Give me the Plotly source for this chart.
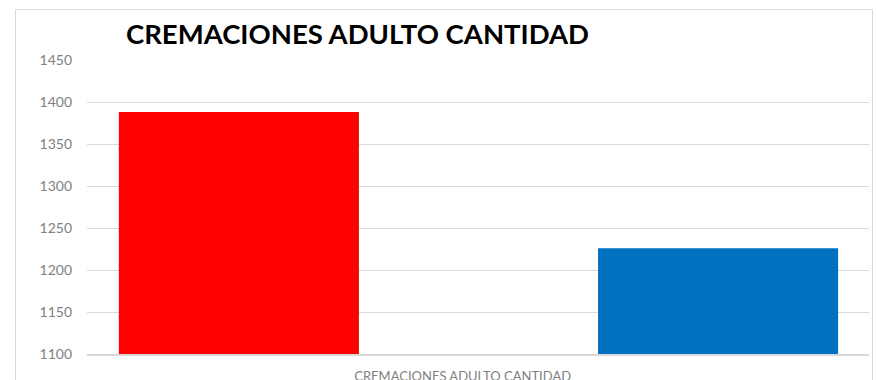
import plotly.graph_objects as go

title_text = "CREMACIONES ADULTO CANTIDAD"
category = "CREMACIONES ADULTO CANTIDAD"
series_names = ["Serie 1", "Serie 2"]
series_values = [1388, 1226]
series_colors = ["#FF0000", "#0070C0"]
y_ticks = [1100, 1150, 1200, 1250, 1300, 1350, 1400, 1450]

fig = go.Figure()
for i, (name, val, col) in enumerate(zip(series_names, series_values, series_colors)):
    fig.add_trace(go.Bar(
        x=[i], y=[val], name=name, marker=dict(color=col, line=dict(width=0)),
        width=0.501, showlegend=False, hoverinfo="y",
    ))

n = len(series_values)
fig.update_layout(
    width=876, height=380,
    margin=dict(l=87, r=7, t=60, b=26, autoexpand=False),
    paper_bgcolor="white", plot_bgcolor="white",
    font=dict(family="Lato", color="#7F7F7F"),
    barmode="overlay",
    xaxis=dict(
        range=[-0.317, 1.315], tickmode="array", tickvals=[(n - 1) / 2 - 0.033],
        ticktext=[category], showgrid=False, zeroline=False, automargin=False,
        showline=True, linecolor="#D9D9D9", linewidth=2, ticks="",
        ticklabelstandoff=9,
        tickfont=dict(size=13, color="#7F7F7F"), fixedrange=True,
    ),
    yaxis=dict(
        range=[1100, 1450], tickmode="array", tickvals=y_ticks, automargin=False,
        showgrid=True, gridcolor="#D9D9D9", gridwidth=1.3, zeroline=False,
        showline=False, ticks="", ticklabelstandoff=14,
        tickfont=dict(size=14, color="#7F7F7F"),
    ),
    annotations=[dict(
        text="<b>" + title_text + "</b>", xref="paper", yref="paper",
        x=(124 - 87) / 782, y=(354 - 33) / 294, xanchor="left", yanchor="middle",
        showarrow=False, font=dict(family="Lato", size=27.5, color="#000000"),
    )],
    shapes=[dict(
        type="rect", xref="paper", yref="paper",
        x0=(15.5 - 87) / 782, x1=(872.5 - 87) / 782,
        y0=-0.3, y1=(354 - 9.5) / 294,
        line=dict(color="#D9D9D9", width=1), fillcolor="rgba(0,0,0,0)", layer="below",
    )],
)

fig.write_html(
    "out.html",
    config={"displayModeBar": False},
    post_script="document.body.style.margin='0';document.body.style.overflow='hidden';",
)
